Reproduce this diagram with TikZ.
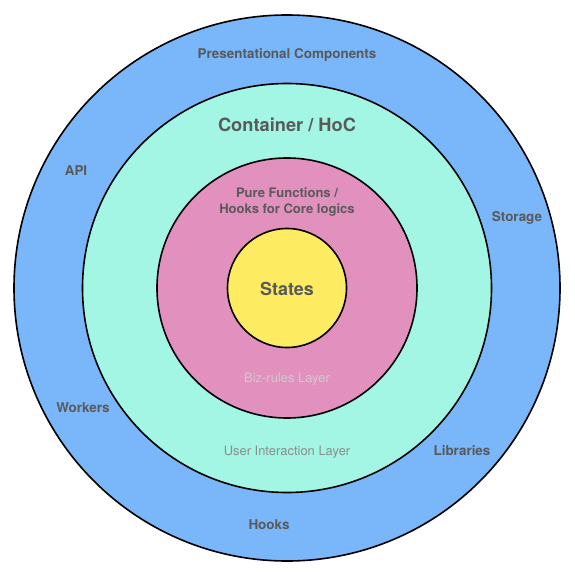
\documentclass[tikz,border=0pt]{standalone}
\usepackage{fontspec}
\setmainfont{TeX Gyre Heros}
\usepackage{xcolor}
\usetikzlibrary{positioning}

\definecolor{outerblue}{HTML}{79B6FA}
\definecolor{containerteal}{HTML}{A3F5E4}
\definecolor{corepink}{HTML}{E291BF}
\definecolor{stateyellow}{HTML}{FDEB62}
\definecolor{labelgray}{HTML}{595959}
\definecolor{layergray}{HTML}{8C8C8C}
\definecolor{bizgray}{HTML}{D2C9CF}

\begin{document}
\begin{tikzpicture}[x=1bp, y=-1bp,
    ring/.style={circle, draw=black, line width=1.6bp, inner sep=0pt},
    tag/.style={text=labelgray, font=\bfseries\fontsize{13.5}{16}\selectfont},
    title/.style={text=labelgray, font=\bfseries\fontsize{18.3}{22}\selectfont},
    layer/.style={font=\fontsize{13}{16}\selectfont}
    ]
    \useasboundingbox (0,0) rectangle (575,576);

    % the four rings
    \node[ring, fill=outerblue, minimum size=546bp] (outer) at (287,288) {};
    \node[ring, fill=containerteal, minimum size=409bp] (container) at (287,288) {};
    \node[ring, fill=corepink, minimum size=260bp] (core) at (287,288) {};
    \node[ring, fill=stateyellow, minimum size=119bp] (states) at (287,288) {};

    % outer ring labels
    \node[tag] (presentational) at (287,55) {Presentational Components};
    \node[tag] (api) at (76,171) {API};
    \node[tag] (storage) at (517,218) {Storage};
    \node[tag] (workers) at (83,408) {Workers};
    \node[tag] (libraries) at (462,451) {Libraries};
    \node[tag] (hooks) at (269,525) {Hooks};

    % container ring
    \node[title] (hoc) at (287,124.5) {Container / HoC};
    \node[layer, text=layergray] (interaction) at (287,452) {User Interaction Layer};

    % core ring
    \node[tag, font=\bfseries\fontsize{13.1}{16.5}\selectfont, align=center] (pure) at (287,202)
        {Pure Functions /\\Hooks for Core logics};
    \node[layer, text=bizgray] (biz) at (287,379) {Biz-rules Layer};

    % centre
    \node[title, font=\bfseries\fontsize{18}{22}\selectfont] (statelabel) at (287,289) {States};
\end{tikzpicture}
\end{document}
